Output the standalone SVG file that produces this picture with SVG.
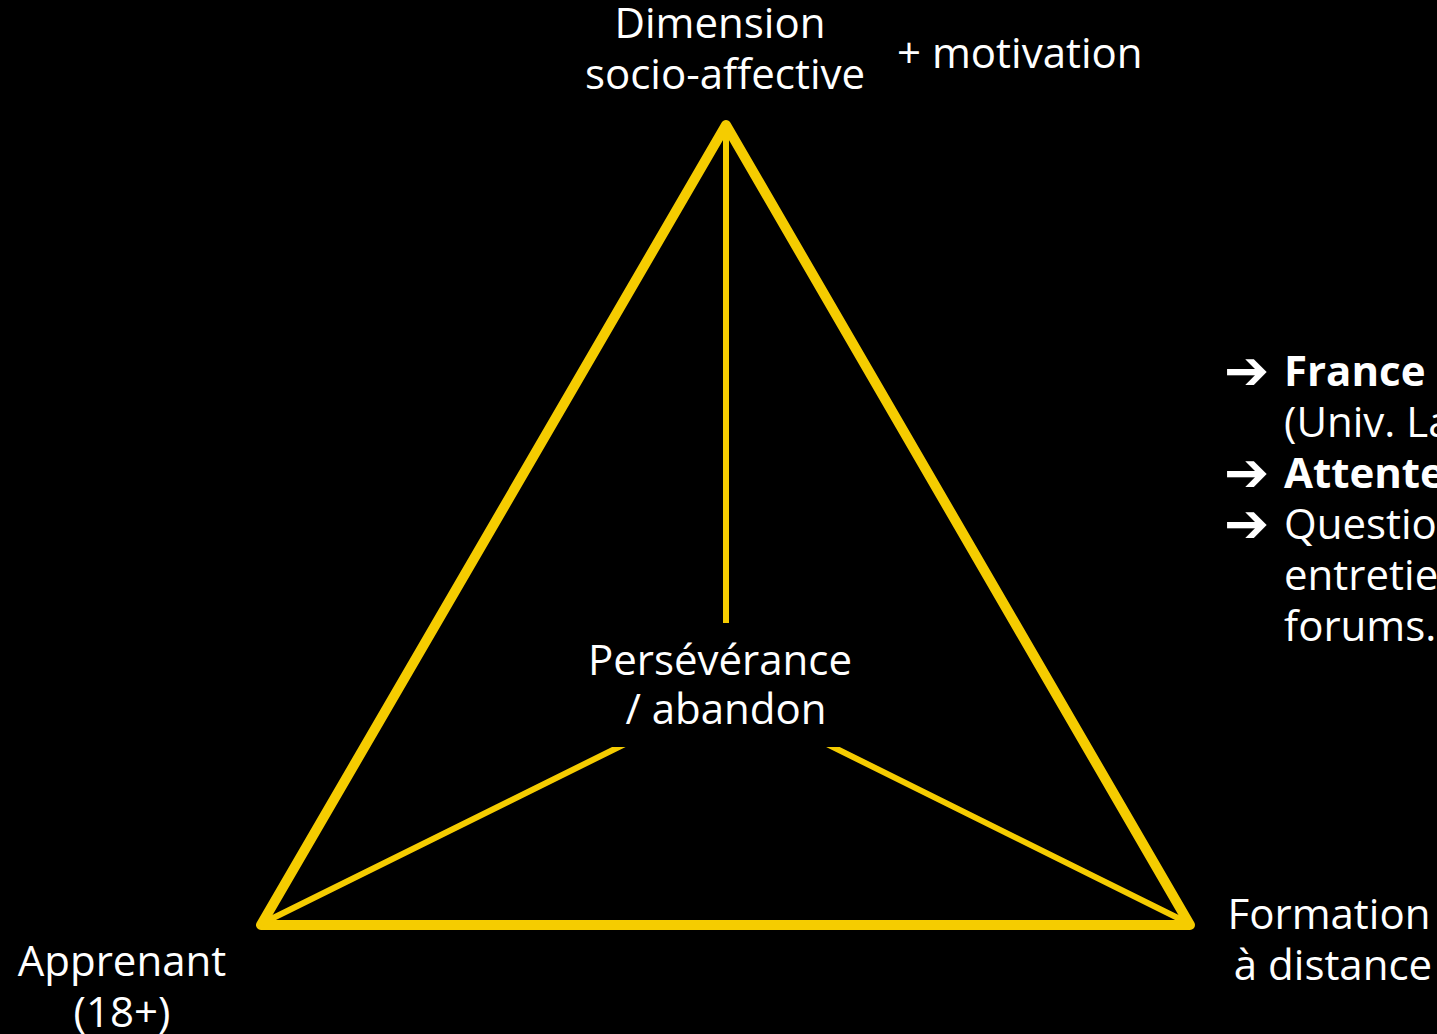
<svg xmlns="http://www.w3.org/2000/svg" width="1437" height="1034" viewBox="0 0 1437 1034">
<style>
.t{font-family:"Open Sans","Noto Sans","Liberation Sans",sans-serif;font-size:42px;fill:#ffffff}
.c{text-anchor:middle}
.b{font-weight:bold}
.ar{font-family:"DejaVu Sans",sans-serif;font-size:54px;fill:#ffffff;font-weight:bold}
.edge{stroke:#F5CC00;fill:none;stroke-linecap:round;stroke-linejoin:round}
</style>
<rect x="0" y="0" width="1437" height="1034" fill="#000000"/>
<g id="connectors">
<polygon class="edge" points="726,125 261,925 1190,925" stroke-width="10"/>
<line class="edge" x1="726" y1="125" x2="726" y2="694" stroke-width="6" stroke-linecap="butt"/>
<line class="edge" x1="263" y1="923" x2="726" y2="694" stroke-width="6" stroke-linecap="butt"/>
<line class="edge" x1="1188" y1="923" x2="726" y2="694" stroke-width="6" stroke-linecap="butt"/>
</g>
<g id="node-top">
<text class="t c" x="720" y="38">Dimension</text>
<text class="t c" x="725" y="89">socio-affective</text>
</g>
<g id="node-motivation">
<text class="t" x="897" y="68">+ motivation</text>
</g>
<g id="node-center">
<rect x="560" y="623" width="330" height="124" fill="#000000"/>
<text class="t c" x="720" y="675">Persévérance</text>
<text class="t c" x="726" y="724">/ abandon</text>
</g>
<g id="node-left">
<text class="t c" x="122" y="976">Apprenant</text>
<text class="t c" x="122" y="1027">(18+)</text>
</g>
<g id="node-right">
<text class="t c" x="1329" y="929">Formation</text>
<text class="t c" x="1333" y="980">à distance</text>
</g>
<g id="node-notes">
<text class="ar" x="1224" y="389">➔</text>
<text class="t b" x="1284" y="386">France</text>
<text class="t" x="1284" y="437">(Univ. La</text>
<text class="ar" x="1224" y="491">➔</text>
<text class="t b" x="1284" y="488">Attente</text>
<text class="ar" x="1224" y="542">➔</text>
<text class="t" x="1284" y="539">Questio</text>
<text class="t" x="1284" y="590">entretie</text>
<text class="t" x="1284" y="641">forums.</text>
</g>
</svg>
